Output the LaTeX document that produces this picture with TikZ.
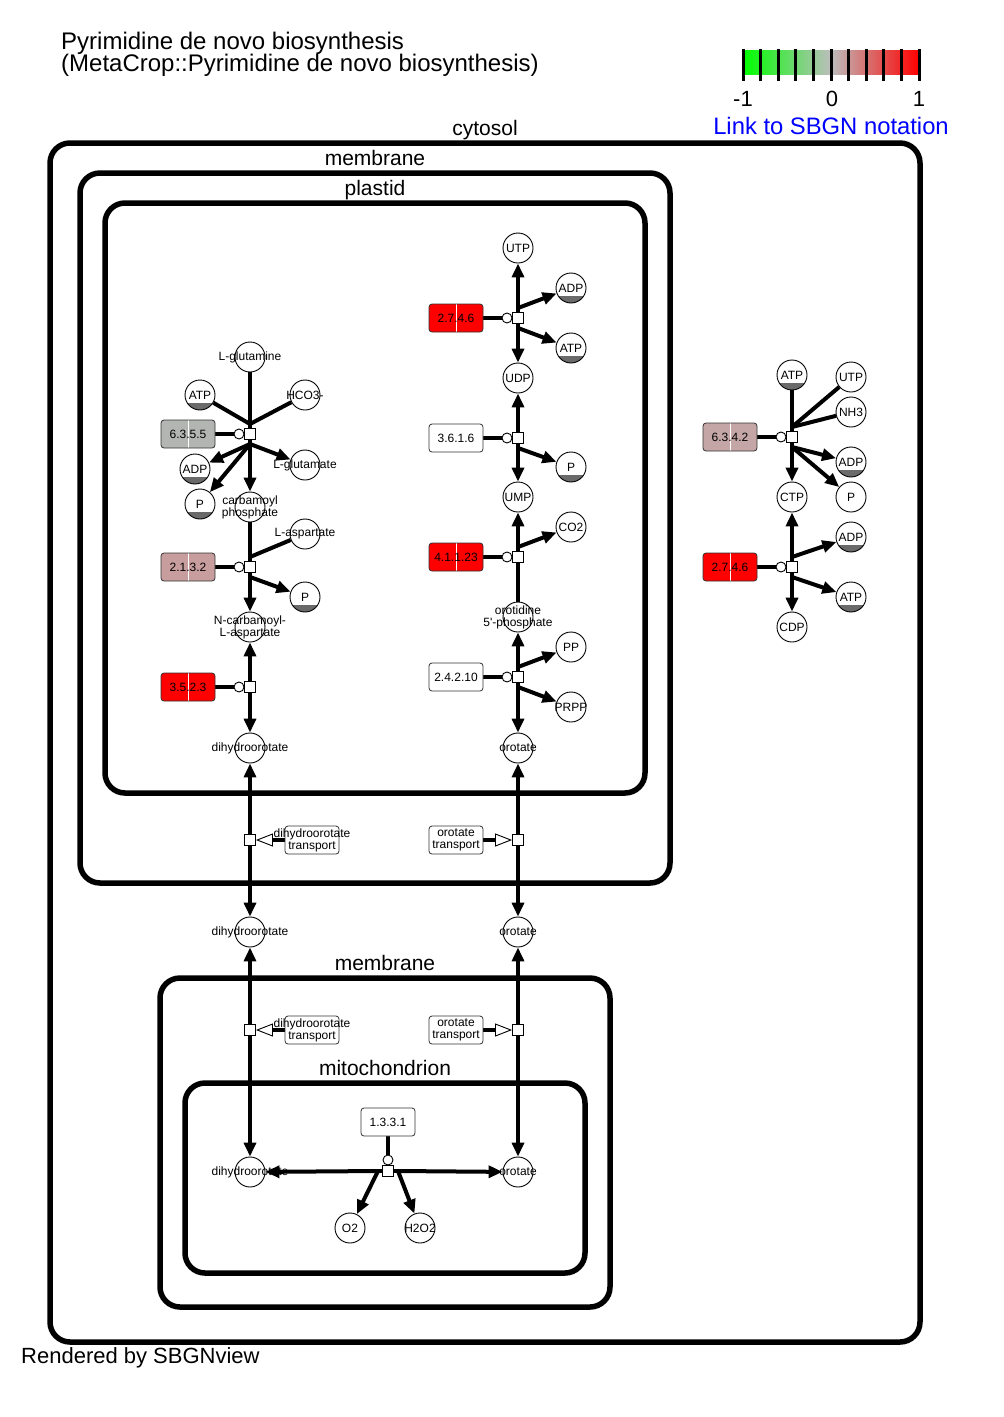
\documentclass[tikz,border=0pt]{standalone}
\usepackage{fontspec}
\setmainfont{Liberation Sans}
\usepackage{tikz}
\usetikzlibrary{arrows.meta,backgrounds}
\usepackage{xcolor}
\definecolor{enzred}{HTML}{FF0000}
\definecolor{enzgray}{HTML}{B3B5B3}
\definecolor{enzrose}{HTML}{C79D9D}
\definecolor{enzpink}{HTML}{C4A6A6}
\definecolor{clonegray}{HTML}{6A6A6A}
\definecolor{barmid}{HTML}{BDBDBD}
\definecolor{linkblue}{HTML}{0000FF}

\tikzset{
  compartment/.style={draw, line width=5.5pt, rounded corners=20pt},
  complabel/.style={font=\fontsize{21}{21}\selectfont, anchor=base, inner sep=0pt},
  species/.style={draw, circle, fill=white, line width=0.9pt, minimum size=30pt, inner sep=0pt},
  clone/.style={path picture={\fill[clonegray] ([yshift=7pt]path picture bounding box.south west) rectangle (path picture bounding box.south east);}},
  splabel/.style={font=\fontsize{12}{12}\selectfont, align=center, inner sep=0pt},
  enzyme/.style={draw=black!80, rounded corners=3pt, minimum width=54pt, minimum height=28pt, line width=0.8pt, font=\fontsize{12}{12}\selectfont, inner sep=0pt},
  enzsplit/.style={path picture={\draw[white, line width=0.6pt] (path picture bounding box.north) -- (path picture bounding box.south);}},
  transbox/.style={draw=black!80, rounded corners=3pt, minimum width=54pt, minimum height=28pt, line width=0.8pt, inner sep=0pt},
  process/.style={draw, fill=white, minimum size=11pt, inner sep=0pt, line width=0.9pt},
  catnode/.style={draw, circle, fill=white, minimum size=10pt, inner sep=0pt, line width=0.9pt},
  link/.style={line width=4pt},
  prodarrow/.style={link, -{Triangle[length=14pt,width=12pt]}},
  catline/.style={link},
  stimarrow/.style={link, -{Triangle[length=17pt,width=13pt,fill=white,line width=0.9pt]}},
}

\begin{document}
\begin{tikzpicture}[x=1pt,y=-1pt]

\useasboundingbox (0,0) rectangle (1004,1417);

% title and legend
\node[anchor=base west, inner sep=0pt, font=\fontsize{24}{24}\selectfont] (title1) at (61,49) {Pyrimidine de novo biosynthesis};
\node[anchor=base west, inner sep=0pt, font=\fontsize{24}{24}\selectfont] (title2) at (61,71) {(MetaCrop::Pyrimidine de novo biosynthesis)};

\shade[left color=green, right color=red, middle color=barmid] (743,50) rectangle (919,74);
\foreach \i in {0,...,10}
  \draw[line width=3pt] ({743+17.6*\i},49) -- ({743+17.6*\i},81);
\node[anchor=base, inner sep=0pt, font=\fontsize{22}{22}\selectfont] (lgmin) at (743,106) {-1};
\node[anchor=base, inner sep=0pt, font=\fontsize{22}{22}\selectfont] (lgmid) at (832,106) {0};
\node[anchor=base, inner sep=0pt, font=\fontsize{22}{22}\selectfont] (lgmax) at (919,106) {1};
\node[anchor=base, inner sep=0pt, text=linkblue, font=\fontsize{23.8}{23.8}\selectfont] (sbgnlink) at (831,134) {Link to SBGN notation};

\node[anchor=base west, inner sep=0pt, font=\fontsize{22}{22}\selectfont] (rendered) at (21,1363) {Rendered by SBGNview};

% compartments
\draw[compartment] (50,143) rectangle (920,1342);
\draw[compartment] (80,173) rectangle (670,883);
\draw[compartment] (105,203) rectangle (645,793);
\draw[compartment] (160,978) rectangle (610,1307);
\draw[compartment] (185,1083) rectangle (585,1273);
\node[complabel] (lcytosol) at (485,135) {cytosol};
\node[complabel] (lmembr1) at (375,165) {membrane};
\node[complabel] (lplastid) at (375,195) {plastid};
\node[complabel] (lmembr2) at (385,970) {membrane};
\node[complabel] (lmito) at (385,1075) {mitochondrion};

% plastid, left column
\node[species, label={[splabel]center:L-glutamine}] (gln) at (250,357) {};
\node[species, clone, label={[splabel]center:ATP}] (atp1) at (200,395) {};
\node[species, label={[splabel]center:HCO3-}] (hco3) at (305,395) {};
\node[enzyme, enzsplit, fill=enzgray] (e6355) at (188,434) {6.3.5.5};
\node[process] (r1) at (250,434) {};
\node[catnode] (r1c) at (239,434) {};
\coordinate (r1t) at (250,424);
\coordinate (r1b) at (250,444);
\node[species, clone, label={[splabel]center:ADP}] (adp1) at (195,469) {};
\node[species, label={[splabel]center:L-glutamate}] (glu) at (305,465) {};
\node[species, clone, label={[splabel]center:P}] (p1) at (200,504) {};
\node[species, label={[splabel]center:{carbamoyl\\phosphate}}] (cp) at (250,507) {};
\node[species, label={[splabel]center:L-aspartate}] (asp) at (305,534) {};
\node[enzyme, enzsplit, fill=enzrose] (e2132) at (188,567) {2.1.3.2};
\node[process] (r2) at (250,567) {};
\node[catnode] (r2c) at (239,567) {};
\coordinate (r2t) at (250,557);
\coordinate (r2b) at (250,577);
\node[species, clone, label={[splabel]center:P}] (p2) at (305,597) {};
\node[species, label={[splabel]center:{N-carbamoyl-\\L-aspartate}}] (nca) at (250,627) {};
\node[enzyme, enzsplit, fill=enzred] (e3523) at (188,687) {3.5.2.3};
\node[process] (r3) at (250,687) {};
\node[catnode] (r3c) at (239,687) {};
\coordinate (r3t) at (250,677);
\coordinate (r3b) at (250,697);
\node[species, label={[splabel]center:dihydroorotate}] (dho1) at (250,748) {};

% plastid, middle column
\node[species, label={[splabel]center:UTP}] (utp1) at (518,248) {};
\node[species, clone, label={[splabel]center:ADP}] (adp2) at (571,288) {};
\node[enzyme, enzsplit, fill=enzred] (e2746a) at (456,318) {2.7.4.6};
\node[process] (r4) at (518,318) {};
\node[catnode] (r4c) at (507,318) {};
\coordinate (r4t) at (518,308);
\coordinate (r4b) at (518,328);
\node[species, clone, label={[splabel]center:ATP}] (atp2) at (571,348) {};
\node[species, label={[splabel]center:UDP}] (udp) at (518,378) {};
\node[enzyme, fill=white] (e3616) at (456,438) {3.6.1.6};
\node[process] (r5) at (518,438) {};
\node[catnode] (r5c) at (507,438) {};
\coordinate (r5t) at (518,428);
\coordinate (r5b) at (518,448);
\node[species, clone, label={[splabel]center:P}] (p3) at (571,467) {};
\node[species, label={[splabel]center:UMP}] (ump) at (518,497) {};
\node[species, label={[splabel]center:CO2}] (co2) at (571,527) {};
\node[enzyme, enzsplit, fill=enzred] (e41123) at (456,557) {4.1.1.23};
\node[process] (r6) at (518,557) {};
\node[catnode] (r6c) at (507,557) {};
\coordinate (r6t) at (518,547);
\coordinate (r6b) at (518,567);
\node[species, label={[splabel]center:{orotidine\\5\textquotesingle-phosphate}}] (omp) at (518,617) {};
\node[species, label={[splabel]center:PP}] (pp) at (571,647) {};
\node[enzyme, fill=white] (e24210) at (456,677) {2.4.2.10};
\node[process] (r7) at (518,677) {};
\node[catnode] (r7c) at (507,677) {};
\coordinate (r7t) at (518,667);
\coordinate (r7b) at (518,687);
\node[species, label={[splabel]center:PRPP}] (prpp) at (571,707) {};
\node[species, label={[splabel]center:orotate}] (oro1) at (518,748) {};

% cytosol, right column
\node[species, clone, label={[splabel]center:ATP}] (atp3) at (792,375) {};
\node[species, label={[splabel]center:UTP}] (utp2) at (851,377) {};
\node[species, label={[splabel]center:NH3}] (nh3) at (851,412) {};
\node[enzyme, enzsplit, fill=enzpink] (e6342) at (730,437) {6.3.4.2};
\node[process] (r8) at (792,437) {};
\node[catnode] (r8c) at (781,437) {};
\coordinate (r8t) at (792,427);
\coordinate (r8b) at (792,447);
\node[species, clone, label={[splabel]center:ADP}] (adp3) at (851,462) {};
\node[species, label={[splabel]center:P}] (p4) at (851,497) {};
\node[species, label={[splabel]center:CTP}] (ctp) at (792,497) {};
\node[species, clone, label={[splabel]center:ADP}] (adp4) at (851,537) {};
\node[enzyme, enzsplit, fill=enzred] (e2746b) at (730,567) {2.7.4.6};
\node[process] (r9) at (792,567) {};
\node[catnode] (r9c) at (781,567) {};
\coordinate (r9t) at (792,557);
\coordinate (r9b) at (792,577);
\node[species, clone, label={[splabel]center:ATP}] (atp4) at (851,597) {};
\node[species, label={[splabel]center:CDP}] (cdp) at (792,627) {};

% transports
\node[process] (t1) at (250,840) {};
\coordinate (t1t) at (250,830);
\coordinate (t1b) at (250,850);
\node[transbox, label={[splabel]center:{dihydroorotate\\transport}}] (tdho1) at (312,840) {};
\node[process] (t2) at (518,840) {};
\coordinate (t2t) at (518,830);
\coordinate (t2b) at (518,850);
\node[transbox, label={[splabel]center:{orotate\\transport}}] (toro1) at (456,840) {};
\node[species, label={[splabel]center:dihydroorotate}] (dho2) at (250,932) {};
\node[species, label={[splabel]center:orotate}] (oro2) at (518,932) {};
\node[process] (t3) at (250,1030) {};
\coordinate (t3t) at (250,1020);
\coordinate (t3b) at (250,1040);
\node[transbox, label={[splabel]center:{dihydroorotate\\transport}}] (tdho2) at (312,1030) {};
\node[process] (t4) at (518,1030) {};
\coordinate (t4t) at (518,1020);
\coordinate (t4b) at (518,1040);
\node[transbox, label={[splabel]center:{orotate\\transport}}] (toro2) at (456,1030) {};

% mitochondrion
\node[enzyme, fill=white] (e1331) at (388,1122) {1.3.3.1};
\node[process] (r10) at (388,1171) {};
\node[catnode] (r10c) at (388,1160) {};
\coordinate (r10l) at (378,1171);
\coordinate (r10r) at (398,1171);
\node[species, label={[splabel]center:dihydroorotate}] (dho3) at (250,1172) {};
\node[species, label={[splabel]center:orotate}] (oro3) at (518,1172) {};
\node[species, label={[splabel]center:O2}] (o2) at (350,1228) {};
\node[species, label={[splabel]center:H2O2}] (h2o2) at (420,1228) {};

\begin{scope}[on background layer]
% 6.3.5.5
\draw[link] (r1t) -- (r1b);
\draw[link] (gln) -- (r1t);
\draw[link] (atp1) -- (r1t);
\draw[link] (hco3) -- (r1t);
\draw[prodarrow] (r1b) -- (adp1);
\draw[prodarrow] (r1b) -- (p1);
\draw[prodarrow] (r1b) -- (glu);
\draw[prodarrow] (r1b) -- (cp);
\draw[catline] (e6355) -- (r1c);
% 2.1.3.2
\draw[link] (r2t) -- (r2b);
\draw[link] (cp) -- (r2t);
\draw[link] (asp) -- (r2t);
\draw[prodarrow] (r2b) -- (p2);
\draw[prodarrow] (r2b) -- (nca);
\draw[catline] (e2132) -- (r2c);
% 3.5.2.3
\draw[link] (r3t) -- (r3b);
\draw[prodarrow] (r3t) -- (nca);
\draw[prodarrow] (r3b) -- (dho1);
\draw[catline] (e3523) -- (r3c);
% 2.7.4.6 (plastid)
\draw[link] (r4t) -- (r4b);
\draw[prodarrow] (r4t) -- (utp1);
\draw[prodarrow] (r4t) -- (adp2);
\draw[prodarrow] (r4b) -- (atp2);
\draw[prodarrow] (r4b) -- (udp);
\draw[catline] (e2746a) -- (r4c);
% 3.6.1.6
\draw[link] (r5t) -- (r5b);
\draw[prodarrow] (r5t) -- (udp);
\draw[prodarrow] (r5b) -- (p3);
\draw[prodarrow] (r5b) -- (ump);
\draw[catline] (e3616) -- (r5c);
% 4.1.1.23
\draw[link] (r6t) -- (r6b);
\draw[prodarrow] (r6t) -- (ump);
\draw[prodarrow] (r6t) -- (co2);
\draw[link] (omp) -- (r6b);
\draw[catline] (e41123) -- (r6c);
% 2.4.2.10
\draw[link] (r7t) -- (r7b);
\draw[prodarrow] (r7t) -- (omp);
\draw[prodarrow] (r7t) -- (pp);
\draw[prodarrow] (r7b) -- (prpp);
\draw[prodarrow] (r7b) -- (oro1);
\draw[catline] (e24210) -- (r7c);
% 6.3.4.2
\draw[link] (r8t) -- (r8b);
\draw[link] (atp3) -- (r8t);
\draw[link] (utp2) -- (r8t);
\draw[link] (nh3) -- (r8t);
\draw[prodarrow] (r8b) -- (ctp);
\draw[prodarrow] (r8b) -- (adp3);
\draw[prodarrow] (r8b) -- (p4);
\draw[catline] (e6342) -- (r8c);
% 2.7.4.6 (cytosol)
\draw[link] (r9t) -- (r9b);
\draw[prodarrow] (r9t) -- (ctp);
\draw[prodarrow] (r9t) -- (adp4);
\draw[prodarrow] (r9b) -- (atp4);
\draw[prodarrow] (r9b) -- (cdp);
\draw[catline] (e2746b) -- (r9c);
% transports
\draw[link] (t1t) -- (t1b);
\draw[prodarrow] (t1t) -- (dho1);
\draw[prodarrow] (t1b) -- (dho2);
\draw[stimarrow] (tdho1) -- (t1);
\draw[link] (t2t) -- (t2b);
\draw[prodarrow] (t2t) -- (oro1);
\draw[prodarrow] (t2b) -- (oro2);
\draw[stimarrow] (toro1) -- (t2);
\draw[link] (t3t) -- (t3b);
\draw[prodarrow] (t3t) -- (dho2);
\draw[prodarrow] (t3b) -- (dho3);
\draw[stimarrow] (tdho2) -- (t3);
\draw[link] (t4t) -- (t4b);
\draw[prodarrow] (t4t) -- (oro2);
\draw[prodarrow] (t4b) -- (oro3);
\draw[stimarrow] (toro2) -- (t4);
% 1.3.3.1
\draw[link] (r10l) -- (r10r);
\draw[prodarrow] (r10l) -- (dho3);
\draw[prodarrow] (r10r) -- (oro3);
\draw[prodarrow] (r10l) -- (o2);
\draw[prodarrow] (r10r) -- (h2o2);
\draw[catline] (e1331) -- (r10c);
\end{scope}

\end{tikzpicture}
\end{document}
